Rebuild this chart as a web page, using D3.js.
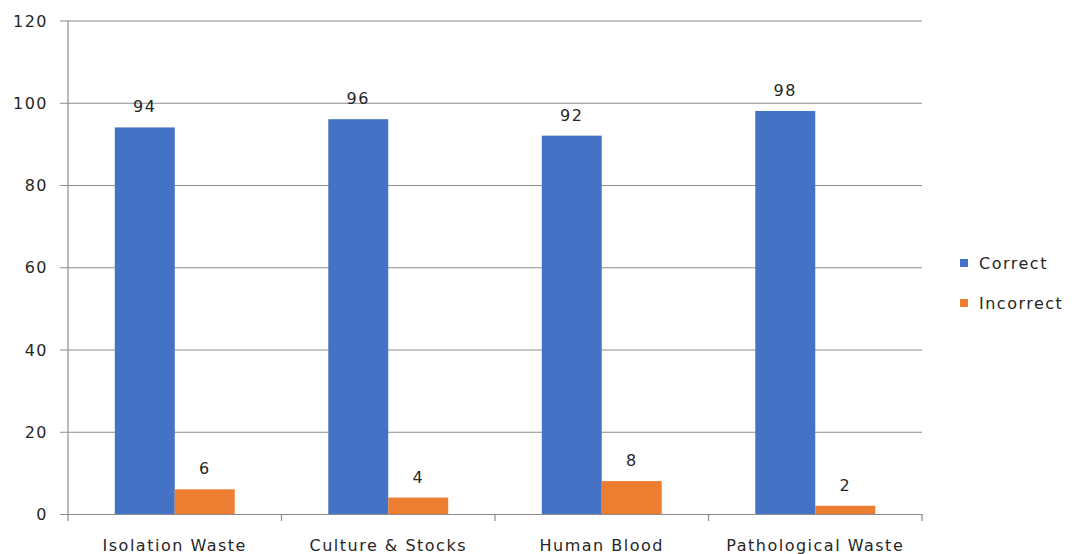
<!DOCTYPE html>
<html>
<head>
<meta charset="utf-8">
<script src="https://cdn.jsdelivr.net/npm/d3@7"></script>
<style>
  html, body { margin: 0; padding: 0; background: #fff; }
  svg text { font-family: "DejaVu Sans", Verdana, sans-serif; fill: #262626; }
</style>
</head>
<body>
<svg id="chart" width="1072" height="554"></svg>
<script>
// Waste segregation answers per category (percent)
const categories = ["Isolation Waste", "Culture & Stocks", "Human Blood", "Pathological Waste"];
const seriesNames = ["Correct", "Incorrect"];
const correct = [94, 96, 92, 98];
const incorrect = [6, 4, 8, 2];
const yTicks = [0, 20, 40, 60, 80, 100, 120];
const colors = ["#4472C4", "#ED7D31"];

const rows = categories.map((c, i) => ({ category: c, values: [correct[i], incorrect[i]] }));

const svg = d3.select("#chart");
const plotLeft = 68, plotRight = 922, plotTop = 20.5, plotBottom = 514;

const x = d3.scaleBand().domain(categories).range([plotLeft, plotRight]).paddingInner(0).paddingOuter(0);
const inner = d3.scaleBand().domain(seriesNames).range([0, x.bandwidth()]).paddingInner(0).paddingOuter(0.78);
const y = d3.scaleLinear().domain([0, 120]).range([plotBottom, plotTop]);

const fontSize = "16px", spacing = "1.5px";

// horizontal gridlines with short outer ticks
svg.append("g")
  .attr("transform", `translate(${plotLeft},0)`)
  .call(d3.axisLeft(y).tickValues(yTicks).tickSize(-(plotRight - plotLeft)).tickSizeOuter(0).tickPadding(0))
  .call(g => g.select(".domain").remove())
  .call(g => g.selectAll(".tick line").attr("x1", -8).attr("stroke", "#8c8c8c").attr("stroke-width", 1.2))
  .call(g => g.selectAll(".tick text").attr("x", -20).attr("font-size", fontSize)
    .attr("letter-spacing", spacing).attr("dy", "0.35em").attr("fill", "#262626")
    .attr("font-family", "DejaVu Sans, Verdana, sans-serif"));

// bars
const groups = svg.append("g").selectAll("g").data(rows).join("g")
  .attr("transform", d => `translate(${x(d.category)},0)`);

groups.selectAll("rect")
  .data(d => d.values.map((v, k) => ({ name: seriesNames[k], value: v, k })))
  .join("rect")
  .attr("x", d => inner(d.name))
  .attr("width", inner.bandwidth())
  .attr("y", d => y(d.value))
  .attr("height", d => y(0) - y(d.value))
  .attr("fill", d => colors[d.k]);

// value labels
groups.selectAll("text.val")
  .data(d => d.values.map((v, k) => ({ name: seriesNames[k], value: v, k })))
  .join("text")
  .attr("class", "val")
  .attr("x", d => inner(d.name) + inner.bandwidth() / 2)
  .attr("y", d => y(d.value) - 15)
  .attr("text-anchor", "middle")
  .attr("font-size", fontSize)
  .attr("letter-spacing", spacing)
  .text(d => d.value);

// category axis
svg.append("g")
  .attr("transform", `translate(0,${plotBottom})`)
  .call(d3.axisBottom(x).tickSize(0).tickPadding(0))
  .call(g => g.select(".domain").attr("stroke", "#8c8c8c").attr("stroke-width", 1.2))
  .call(g => g.selectAll(".tick text").attr("y", 37).attr("dy", 0).attr("font-size", fontSize)
    .attr("letter-spacing", spacing).attr("fill", "#262626")
    .attr("font-family", "DejaVu Sans, Verdana, sans-serif"));

// category boundary ticks
const bounds = categories.map(c => x(c)).concat([plotRight]);
svg.append("g").selectAll("line").data(bounds).join("line")
  .attr("x1", d => d).attr("x2", d => d)
  .attr("y1", plotBottom).attr("y2", plotBottom + 7)
  .attr("stroke", "#8c8c8c").attr("stroke-width", 1.2);

// value axis line
svg.append("line")
  .attr("x1", plotLeft).attr("x2", plotLeft).attr("y1", plotTop).attr("y2", plotBottom)
  .attr("stroke", "#8c8c8c").attr("stroke-width", 1.2);

// legend
const legend = svg.append("g").selectAll("g").data(seriesNames).join("g")
  .attr("transform", (d, i) => `translate(960,${259 + i * 40})`);
legend.append("rect").attr("width", 8).attr("height", 8).attr("fill", (d, i) => colors[i]);
legend.append("text").attr("x", 19).attr("y", 4).attr("dy", "0.35em")
  .attr("font-size", fontSize).attr("letter-spacing", spacing).text(d => d);
</script>
</body>
</html>
